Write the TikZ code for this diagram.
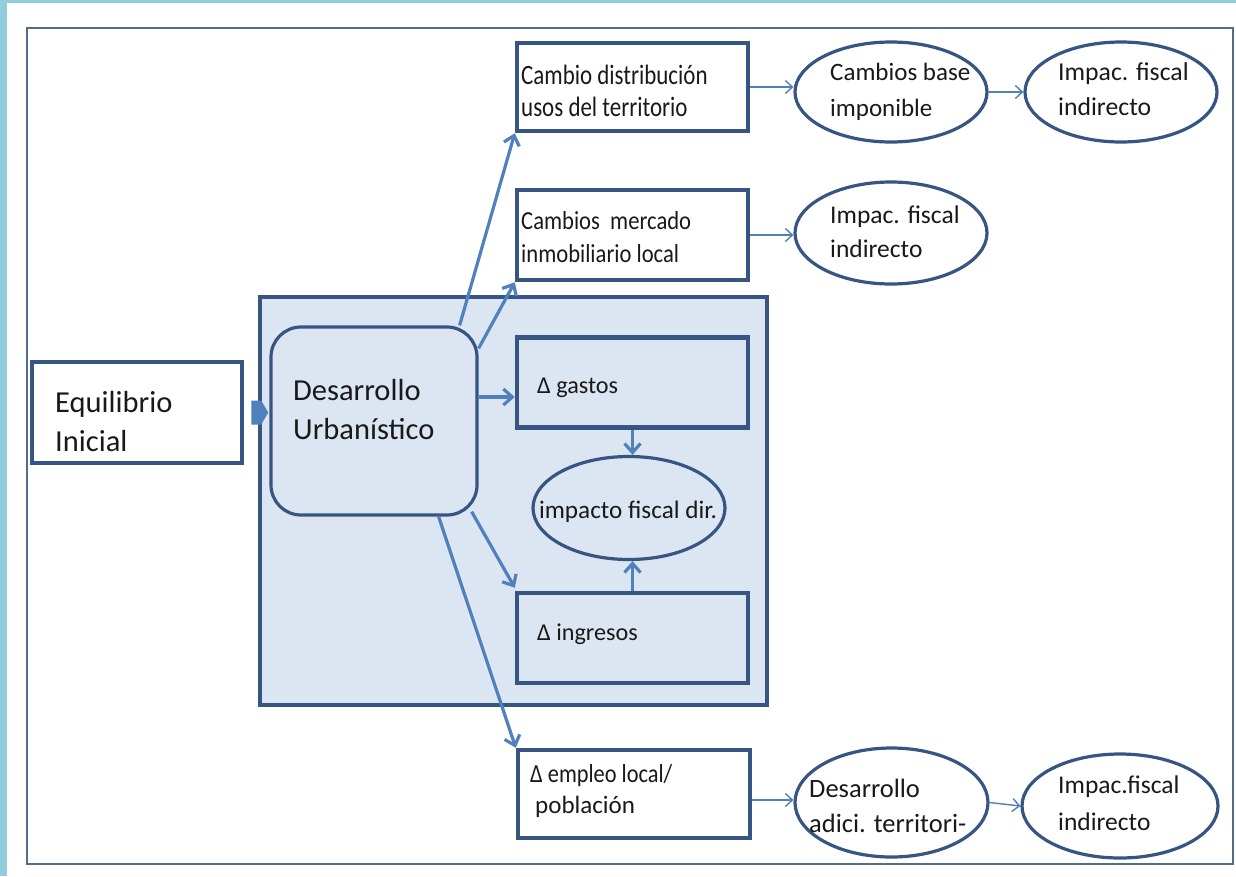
\documentclass[tikz,border=0pt]{standalone}
\usepackage{fontspec}
\setmainfont{Carlito}
\usetikzlibrary{arrows.meta,shapes.geometric,calc}
\definecolor{strip}{RGB}{146,205,223}
\definecolor{frameline}{RGB}{80,110,140}
\definecolor{boxline}{RGB}{55,85,130}
\definecolor{arrowc}{RGB}{79,129,189}
\definecolor{panelfill}{RGB}{220,230,242}
\definecolor{ink}{RGB}{25,25,25}
% condensed text: horizontal factor, font size, text
\newcommand{\condensed}[3]{\scalebox{#1}[1]{\fontsize{#2}{#2}\selectfont #3}}
\tikzset{
  box/.style={draw=boxline, line width=4.5pt, rectangle, inner sep=0pt},
  oval/.style={draw=boxline, line width=3.2pt, ellipse, inner sep=0pt},
  bigarrow/.style={draw=arrowc, line width=3.2pt, -{Straight Barb[length=9pt,width=16pt,line width=3.2pt]}},
  thinarrow/.style={draw=arrowc, line width=1.4pt, -{Straight Barb[length=7pt,width=13pt,line width=1.4pt]}},
  small/.style={anchor=base west, inner sep=0pt, text=ink, font=\fontsize{#1}{#1}\selectfont},
  small/.default=24.5,
  large/.style={anchor=base west, inner sep=0pt, text=ink, font=\fontsize{30.5}{36}\selectfont},
}
\begin{document}
\begin{tikzpicture}[x=1pt,y=-1pt]
\useasboundingbox (0,0) rectangle (1236,876);
\fill[white] (0,0) rectangle (1236,876);
\fill[strip] (0,0) rectangle (7,876);
\fill[strip] (0,0) rectangle (1236,3);
\draw[frameline, line width=2.5pt] (27,28) rectangle (1233,864);

% shaded panel holding the direct fiscal effects
\node[box, fill=panelfill, minimum width=507, minimum height=408] (panel) at (513.5,501) {};

% nodes
\node[box, minimum width=210, minimum height=101] (eq) at (137,412.5) {};
\node[draw=boxline, line width=3.2pt, rectangle, rounded corners=30pt, fill=panelfill,
      minimum width=206, minimum height=188, inner sep=0pt] (desa) at (374,421) {};
\node[box, minimum width=231, minimum height=90] (gastos) at (632.5,382.5) {};
\node[oval, minimum width=192, minimum height=103] (ifd) at (629,508) {};
\node[box, minimum width=231, minimum height=90] (ingresos) at (632.5,638) {};
\node[box, minimum width=231, minimum height=88] (cdist) at (632.5,87) {};
\node[box, minimum width=231, minimum height=90] (cmerc) at (632.5,235) {};
\node[oval, minimum width=192, minimum height=100] (cbase) at (891,92) {};
\node[oval, minimum width=192, minimum height=100] (ifi1) at (1121,92) {};
\node[oval, minimum width=192, minimum height=102] (ifi2) at (891,233) {};
\node[box, minimum width=232, minimum height=88] (empleo) at (634,794) {};
\node[oval, minimum width=193, minimum height=109] (dadic) at (891.5,802.5) {};
\node[oval, minimum width=196, minimum height=104] (ifi3) at (1120,806) {};

% texts
\node[large] (eq1) at (55,412) {Equilibrio};
\node[large] (eq2) at (55,451) {Inicial};
\node[large] (de1) at (293,400) {Desarrollo};
\node[large] (de2) at (293,439) {Urbanístico};
\node[small=24.2] (ga) at (537,393) {Δ gastos};
\node[small=25.2, anchor=base] (fd) at (628,518) {impacto fiscal dir.};
\node[small=24.2] (in) at (537,640) {Δ ingresos};
\node[small] (cd1) at (521,84) {\condensed{0.82}{28}{Cambio distribución}};
\node[small] (cd2) at (521,116) {\condensed{0.82}{28}{usos del territorio}};
\node[small] (cm1) at (521,229) {\condensed{0.87}{26}{Cambios~~mercado}};
\node[small] (cm2) at (521,262) {\condensed{0.87}{26}{inmobiliario local}};
\node[small=25] (cb1) at (830,80) {Cambios base};
\node[small=25] (cb2) at (830,116) {imponible};
\node[small=25.7] (i11) at (1058,80) {Impac. fiscal};
\node[small=25.7] (i12) at (1058,115) {indirecto};
\node[small=25.5] (i21) at (830,223) {Impac. fiscal};
\node[small=25.5] (i22) at (830,257) {indirecto};
\node[small] (em1) at (530,782) {\condensed{0.86}{26}{Δ empleo local/}};
\node[small=25] (em2) at (535,813) {población};
\node[small=26.5] (da1) at (809,797) {Desarrollo};
\node[small=26.5] (da2) at (809,832) {adici. territori-};
\node[small=25.5] (i31) at (1058,793) {Impac.fiscal};
\node[small=25.5] (i32) at (1058,830) {indirecto};

% block arrow into the development box
\fill[arrowc] ($(eq.east)+(7,-12)$) -- ++(10,0) -- ++(7,12) -- ++(-7,12) -- ++(-10,0) -- cycle;

% arrows leaving the development box
\coordinate (dg) at ($(desa.east)+(0,-24)$);
\draw[bigarrow] ($(desa.north east)+(-19,0)$) -- (cdist.south west);
\draw[bigarrow] ($(desa.north east)+(0,23)$) -- (cmerc.south west);
\draw[bigarrow] (dg) -- (dg -| gastos.west);
\draw[bigarrow] ($(desa.south east)+(-7,-5)$) -- ($(ingresos.north west)+(0,-3)$);
\draw[bigarrow] ($(desa.south east)+(-40,0)$) -- (empleo.north west);
\draw[bigarrow] (gastos.south) -- (gastos.south |- ifd.north);
\draw[bigarrow] (ingresos.north) -- (ingresos.north |- ifd.south);

% indirect chains
\coordinate (ee) at ($(empleo.east)+(0,6)$);
\draw[thinarrow] (cdist.east) -- (cdist.east -| cbase.west);
\draw[thinarrow] (cbase.east) -- (ifi1.west);
\draw[thinarrow] (cmerc.east) -- (cmerc.east -| ifi2.west);
\draw[thinarrow] (ee) -- (ee -| dadic.west);
\draw[thinarrow] (dadic.east) -- (ifi3.west);
\end{tikzpicture}
\end{document}
